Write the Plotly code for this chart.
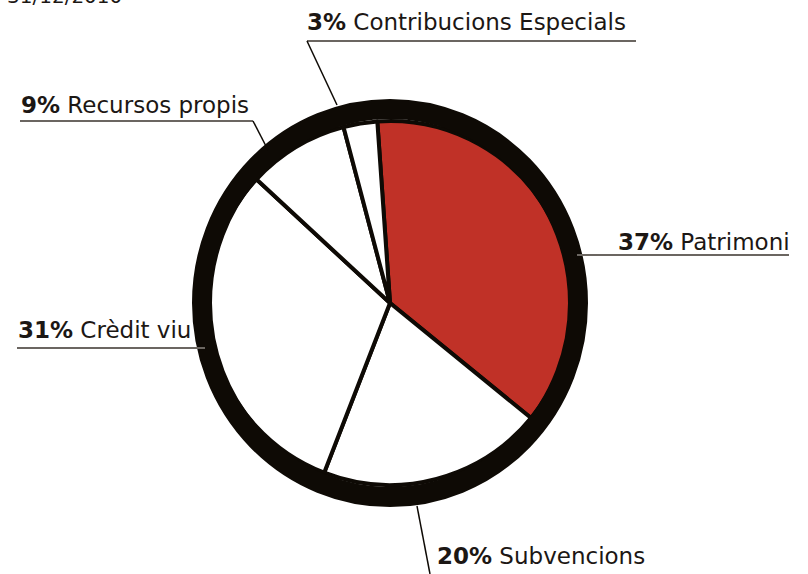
import plotly.graph_objects as go

W, H = 808, 574

labels = ["Patrimoni", "Subvencions", "Crèdit viu", "Recursos propis", "Contribucions Especials"]
values = [37, 20, 31, 9, 3]
colors = ["#c03127", "#ffffff", "#ffffff", "#ffffff", "#ffffff"]
date_text = "31/12/2010"

INK = "#0e0a05"
TXT = "#1c1714"
GREY = "#6b6661"
FONT = "DejaVu Sans"

def px(x):
    return x / W

def py(y):
    return 1 - y / H

cx, cy, r = 390, 303, 182

fig = go.Figure()
fig.add_trace(go.Pie(
    labels=labels, values=values, sort=False, direction="clockwise", rotation=-4,
    marker=dict(colors=colors, line=dict(color=INK, width=4)),
    textinfo="none", hoverinfo="label+percent", showlegend=False,
    domain=dict(x=[px(cx - r), px(cx + r)], y=[py(cy + r), py(cy - r)]),
))

# thick hand-drawn style outline
R = 188
shapes = [dict(type="circle", xref="paper", yref="paper",
               x0=px(cx - R), x1=px(cx + R), y0=py(cy + R + 6), y1=py(cy - R - 6),
               line=dict(color=INK, width=20), layer="above")]

def seg(x0, y0, x1, y1, color=GREY, w=2):
    shapes.append(dict(type="line", xref="paper", yref="paper",
                       x0=px(x0), y0=py(y0), x1=px(x1), y1=py(y1),
                       line=dict(color=color, width=w)))

# leader lines
seg(307, 41, 636, 41)           # Contribucions underline
seg(307, 41, 337, 105, INK, 1.5)
seg(20, 121, 253, 121)          # Recursos underline
seg(253, 121, 268, 150, INK, 1.5)
seg(577, 255, 789, 255)         # Patrimoni underline
seg(17, 348, 205, 348)          # Crèdit underline
seg(417, 506, 430, 574, INK, 1.5)  # Subvencions leader

def lab(i):
    return f"<b>{values[i]}%</b> {labels[i]}"

ann_pos = [
    (0, 616, 242, "left"),
    (1, 435, 556, "left"),
    (2, 16, 330, "left"),
    (3, 19, 105, "left"),
    (4, 305, 22, "left"),
]
annotations = []
for i, x, y, anc in ann_pos:
    annotations.append(dict(text=lab(i), x=px(x), y=py(y), xref="paper", yref="paper",
                            xanchor=anc, yanchor="middle", showarrow=False,
                            font=dict(family=FONT, size=23, color=TXT)))
annotations.append(dict(text=date_text, x=px(5), y=py(-4), xref="paper", yref="paper",
                        xanchor="left", yanchor="middle", showarrow=False,
                        font=dict(family=FONT, size=20, color=TXT)))

fig.update_layout(
    width=W, height=H, margin=dict(l=0, r=0, t=0, b=0),
    paper_bgcolor="white", plot_bgcolor="white",
    shapes=shapes, annotations=annotations,
)

fig.write_html("out.html")
